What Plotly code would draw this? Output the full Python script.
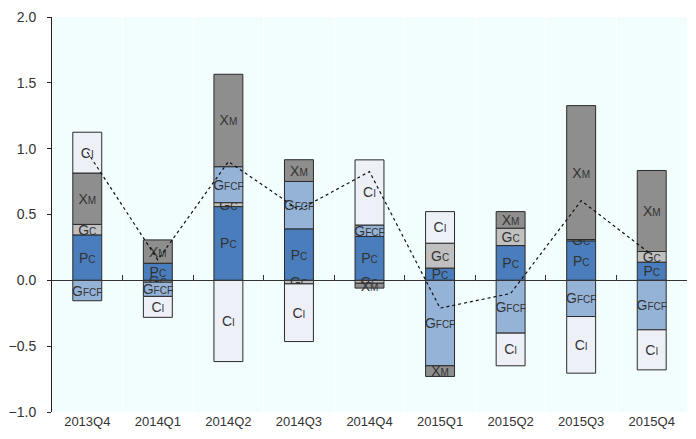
import plotly.graph_objects as go

categories = ["2013Q4", "2014Q1", "2014Q2", "2014Q3", "2014Q4",
              "2015Q1", "2015Q2", "2015Q3", "2015Q4"]

pc = [0.345, 0.130, 0.560, 0.391, 0.333, 0.093, 0.264, 0.300, 0.138]
gc = [0.080, -0.014, 0.030, -0.027, -0.022, 0.189, 0.132, 0.010, 0.081]
gfcf = [-0.155, -0.108, 0.273, 0.360, 0.087, -0.649, -0.401, -0.275, -0.376]
xm = [0.390, 0.177, 0.702, 0.165, -0.037, -0.081, 0.126, 1.017, 0.615]
ci = [0.310, -0.159, -0.617, -0.438, 0.495, 0.240, -0.248, -0.430, -0.304]
gdp = [0.975, 0.155, 0.902, 0.535, 0.826, -0.211, -0.100, 0.605, 0.194]

series = [
    ("P", "C", pc, "#4a7dbb"),
    ("G", "C", gc, "#c0c0c0"),
    ("G", "FCF", gfcf, "#95b3d7"),
    ("X", "M", xm, "#8e8e8e"),
    ("C", "I", ci, "#eef0f8"),
]

FONT = "Liberation Sans, Arial, sans-serif"

fig = go.Figure()
for main, sub, vals, color in series:
    label = f"{main}<span style='font-size:10px'>{sub}</span>"
    fig.add_trace(go.Bar(
        x=categories, y=vals, name=main + sub,
        marker=dict(color=color, line=dict(color="#2a2a2a", width=1)),
        width=0.41,
        text=[label] * len(vals),
        textposition="inside", insidetextanchor="middle",
        constraintext="none", textangle=0,
        textfont=dict(family=FONT, size=14, color="#333333"),
        hoverinfo="skip",
    ))

fig.add_trace(go.Scatter(
    x=categories, y=gdp, mode="lines",
    line=dict(color="#111111", width=1.2, dash="3px,3px"),
    hoverinfo="skip", showlegend=False,
))

# zero-line axis with ticks between categories
ymin, ymax = -1.0, 2.0
fig.add_trace(go.Scatter(x=[None], y=[None], xaxis="x2", showlegend=False, hoverinfo="skip"))

fig.update_layout(
    width=696, height=439,
    barmode="relative",
    showlegend=False,
    paper_bgcolor="white",
    plot_bgcolor="#f2fefe",
    margin=dict(l=49, r=9, t=17, b=27),
    font=dict(family=FONT, color="#333333", size=13),
    xaxis=dict(
        type="category", range=[-0.5, 8.5],
        showline=False, ticks="", showgrid=False,
        tickfont=dict(family=FONT, size=13, color="#333333"),
        ticklabelstandoff=0,
    ),
    xaxis2=dict(
        overlaying="x", anchor="free",
        position=(0 - ymin) / (ymax - ymin),
        range=[-0.5, 8.5],
        tickvals=[i - 0.5 for i in range(len(categories) + 1)],
        ticks="inside", ticklen=5, tickcolor="#333333", tickwidth=1,
        showticklabels=False,
        showline=True, linecolor="#333333", linewidth=1,
        showgrid=True, gridcolor="#ffffff", gridwidth=1,
        zeroline=False,
    ),
    yaxis=dict(
        range=[ymin, ymax], dtick=0.5, tickformat=".1f",
        showline=True, linecolor="#222222", linewidth=1,
        ticks="outside", ticklen=4, tickcolor="#222222",
        showgrid=False, zeroline=False,
        tickfont=dict(family=FONT, size=14, color="#333333"),
        ticklabelstandoff=8,
    ),
)

fig.write_html(
    "out.html",
    config={"displayModeBar": False},
    post_script="document.body.style.margin='0';document.body.style.overflow='hidden';",
)
